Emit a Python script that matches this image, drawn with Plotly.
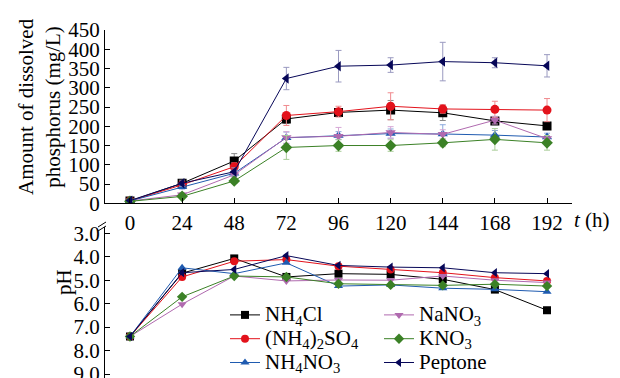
import plotly.graph_objects as go

time_h = [0, 24, 48, 72, 96, 120, 144, 168, 192]
x_ticks = [0, 24, 48, 72, 96, 120, 144, 168, 192]
p_ticks = [0, 50, 100, 150, 200, 250, 300, 350, 400, 450]
ph_ticks = [3.0, 4.0, 5.0, 6.0, 7.0, 8.0, 9.0]
ph_tick_text = ["3.0", "4.0", "5.0", "6.0", "7.0", "8.0", "9.0"]

names = ["NH<sub>4</sub>Cl", "(NH<sub>4</sub>)<sub>2</sub>SO<sub>4</sub>", "NH<sub>4</sub>NO<sub>3</sub>",
         "NaNO<sub>3</sub>", "KNO<sub>3</sub>", "Peptone"]

p_nh4cl = [6, 52, 110, 219, 236, 242, 235, 214, 201]
p_nh42so4 = [6, 48, 95, 228, 238, 252, 245, 244, 242]
p_nh4no3 = [6, 43, 78, 170, 176, 181, 180, 177, 172]
p_nano3 = [6, 22, 74, 171, 174, 184, 179, 216, 168]
p_kno3 = [5, 18, 58, 145, 150, 150, 157, 166, 157]
p_peptone = [7, 52, 82, 324, 356, 359, 368, 365, 357]

e_nh4cl = [2, 6, 19, 12, 8, 25, 20, 8, 6]
e_nh42so4 = [2, 8, 10, 26, 14, 35, 11, 21, 30]
e_nh4no3 = [2, 6, 8, 15, 10, 12, 24, 12, 10]
e_nano3 = [2, 5, 8, 15, 23, 15, 12, 10, 8]
e_kno3 = [2, 5, 6, 31, 15, 15, 10, 28, 19]
e_peptone = [2, 8, 10, 29, 41, 19, 50, 13, 29]

ph_nh4cl = [7.4, 4.7, 4.07, 4.86, 4.72, 4.75, 4.96, 5.4, 6.28]
ph_nh42so4 = [7.4, 4.86, 4.19, 4.12, 4.4, 4.54, 4.68, 4.89, 5.03]
ph_nh4no3 = [7.4, 4.47, 4.72, 4.26, 5.25, 5.2, 5.34, 5.39, 5.49]
ph_nano3 = [7.4, 6.02, 4.82, 5.03, 4.99, 5.0, 4.82, 5.0, 5.1]
ph_kno3 = [7.4, 5.71, 4.82, 4.86, 5.15, 5.2, 5.22, 5.17, 5.25]
ph_peptone = [7.4, 4.68, 4.54, 3.95, 4.37, 4.44, 4.47, 4.68, 4.72]

P = [p_nh4cl, p_nh42so4, p_nh4no3, p_nano3, p_kno3, p_peptone]
E = [e_nh4cl, e_nh42so4, e_nh4no3, e_nano3, e_kno3, e_peptone]
PH = [ph_nh4cl, ph_nh42so4, ph_nh4no3, ph_nano3, ph_kno3, ph_peptone]

colors = ["#000000", "#e3121b", "#1f5bb0", "#b06aaf", "#3b8126", "#070758"]
err_colors = ["#8a8a8a", "#f08a8e", "#8aa8dc", "#d6a8d6", "#a8cc98", "#9a9ac0"]
symbols = ["square", "circle", "triangle-up", "triangle-down", "diamond", "triangle-left"]
legend_ids = ["legend", "legend", "legend", "legend2", "legend2", "legend2"]

FONT = "Liberation Serif"
FS = 21

fig = go.Figure()

for i in range(6):
    fig.add_trace(go.Scatter(
        x=time_h, y=P[i], mode="lines+markers", showlegend=False,
        line=dict(color=colors[i], width=1),
        marker=dict(symbol=symbols[i], size=9, color=colors[i]),
        error_y=dict(type="data", array=E[i], color=err_colors[i], thickness=1, width=3),
        xaxis="x", yaxis="y"))

for i in range(6):
    fig.add_trace(go.Scatter(
        x=time_h, y=PH[i], mode="lines+markers",
        name='<span style="font-size:%dpx">%s</span>' % (FS, names[i]),
        legend=legend_ids[i],
        line=dict(color=colors[i], width=1),
        marker=dict(symbol=symbols[i], size=8, color=colors[i]),
        xaxis="x2", yaxis="y2"))

W, H = 620, 378
def py(pix):
    return 1 - pix / H

L, R = 105, 572
def px(pix):
    return (pix - L) / (R - L)

axis_common = dict(ticks="inside", ticklen=5, tickcolor="#000", showline=True,
                   linecolor="#000", linewidth=1, showgrid=False, zeroline=False,
                   ticklabeloverflow="allow",
                   tickfont=dict(family=FONT, size=FS))

fig.update_layout(
    width=W, height=H,
    margin=dict(l=L, r=W - R, t=0, b=0, autoexpand=False),
    paper_bgcolor="white", plot_bgcolor="white",
    font=dict(family=FONT, size=FS, color="#000000"),
    xaxis=dict(domain=[0, 1], range=[-11.5, 203.5], tickvals=x_ticks, anchor="y",
               **axis_common),
    yaxis=dict(domain=[py(203.3), py(30)], range=[0, 450], tickvals=p_ticks, anchor="x",
               **axis_common),
    xaxis2=dict(domain=[0, 1], range=[-11.5, 203.5], showticklabels=False,
                showline=False, showgrid=False, zeroline=False, anchor="y2", ticks=""),
    yaxis2=dict(domain=[0, py(227)], range=[9.17, 2.73], tickvals=ph_ticks,
                ticktext=ph_tick_text, anchor="x2", **axis_common),
    legend=dict(x=px(225), y=py(298), xanchor="left", yanchor="top",
                bgcolor="rgba(0,0,0,0)", font=dict(family=FONT, size=16),
                tracegroupgap=0, itemwidth=30),
    legend2=dict(x=px(379), y=py(298), xanchor="left", yanchor="top",
                 bgcolor="rgba(0,0,0,0)", font=dict(family=FONT, size=16),
                 tracegroupgap=0, itemwidth=30),
    annotations=[
        dict(text="Amount of dissolved<br>phosphorus (mg/L)", textangle=-90,
             x=px(40), y=py(107), xref="paper", yref="paper", showarrow=False,
             font=dict(family=FONT, size=FS), xanchor="center", yanchor="middle"),
        dict(text="pH", textangle=-90, x=px(50), y=py(297), xref="paper", yref="paper",
             showarrow=False, font=dict(family=FONT, size=FS)),
        dict(text="<i>t</i> (h)", x=px(572), y=py(220), xref="paper", yref="paper",
             xanchor="left", showarrow=False, font=dict(family=FONT, size=FS)),
    ],
    shapes=[
        dict(type="line", xref="paper", yref="paper", x0=px(98), y0=py(227),
             x1=px(106), y1=py(222), line=dict(color="#000", width=1)),
        dict(type="line", xref="paper", yref="paper", x0=px(98), y0=py(231),
             x1=px(106), y1=py(226), line=dict(color="#000", width=1)),
    ],
)

fig.write_html("out.html", config={"displayModeBar": False},
               post_script="document.body.style.margin='0';document.body.style.overflow='hidden';")
